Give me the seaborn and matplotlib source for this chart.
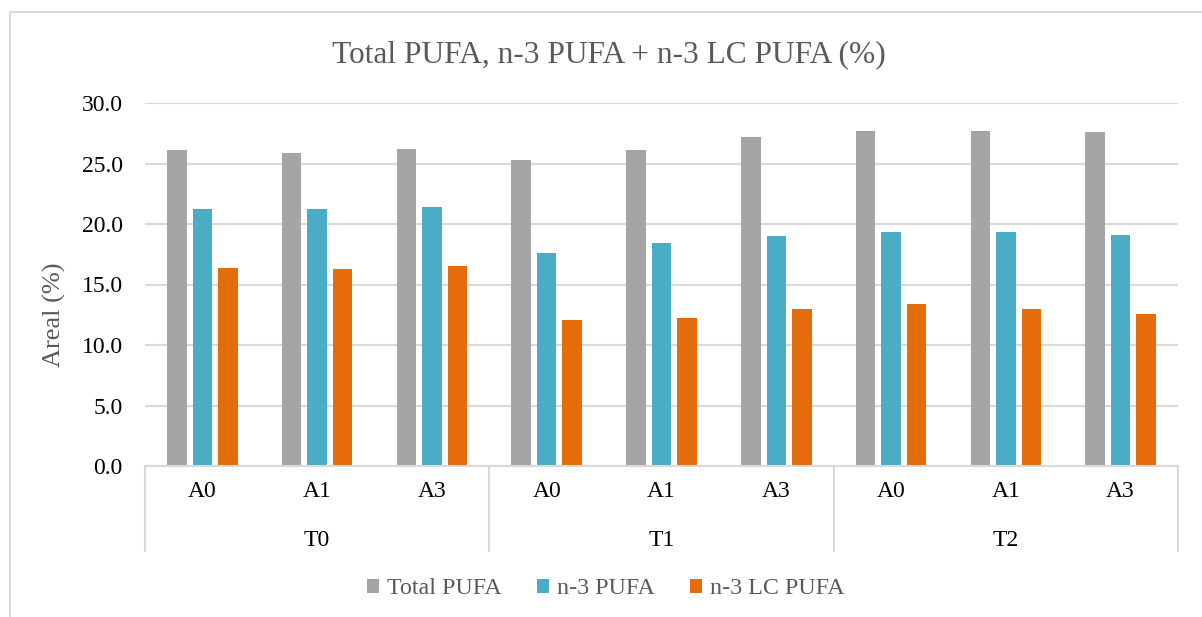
import pandas as pd
import matplotlib.pyplot as plt
import matplotlib.transforms as mtransforms
from matplotlib.patches import Rectangle
import seaborn as sns

# Data
groups = ["T0", "T1", "T2"]
treatments = ["A0", "A1", "A3"]
series = ["Total PUFA", "n-3 PUFA", "n-3 LC PUFA"]
total_pufa = [26.1, 25.9, 26.2, 25.3, 26.1, 27.2, 27.7, 27.7, 27.6]
n3_pufa = [21.2, 21.2, 21.4, 17.6, 18.4, 19.0, 19.3, 19.3, 19.1]
n3_lc_pufa = [16.4, 16.3, 16.5, 12.1, 12.2, 13.0, 13.4, 13.0, 12.6]
colors = ["#A5A5A5", "#4BACC6", "#E46C0A"]

cats = [f"{g}-{t}" for g in groups for t in treatments]
df = pd.DataFrame({
    "cat": cats * 3,
    "series": [s for s in series for _ in cats],
    "value": total_pufa + n3_pufa + n3_lc_pufa,
})

sns.set_style("white")
plt.rcParams["font.family"] = ["Liberation Serif", "DejaVu Serif"]

grid_col = "#D9D9D9"
text_col = "#595959"

fig = plt.figure(figsize=(12.02, 6.17), dpi=100)
ax = fig.add_axes([145 / 1202, 1 - 466 / 617, 1033 / 1202, 363 / 617])

sns.barplot(
    data=df, x="cat", y="value", hue="series",
    order=cats, hue_order=series, palette=colors,
    saturation=1, width=0.666, gap=0.235, linewidth=0,
    errorbar=None, ax=ax,
)

ax.set_ylim(0, 30)
ax.set_xlim(-0.5, len(cats) - 0.5)
ax.set_yticks(range(0, 31, 5))
ax.set_yticklabels([f"{v:.1f}" for v in range(0, 31, 5)])
ax.set_xticks(range(len(cats)))
ax.set_xticklabels(treatments * len(groups))
ax.tick_params(axis="both", length=0, labelsize=17, colors="black")
ax.tick_params(axis="y", pad=16)
ax.tick_params(axis="x", pad=11)

ax.yaxis.grid(True, color=grid_col, linewidth=1.5)
ax.set_axisbelow(True)
for side in ["top", "right", "left"]:
    ax.spines[side].set_visible(False)
ax.spines["bottom"].set_color(grid_col)
ax.spines["bottom"].set_linewidth(1.5)

ax.set_xlabel("")
ax.set_ylabel("Areal (%)", fontsize=19, color=text_col)
ax.yaxis.set_label_coords(-0.076, 0.416)

# second level of the category axis
trans = mtransforms.blended_transform_factory(ax.transData, ax.transAxes)
for i, g in enumerate(groups):
    ax.text(i * 3 + 1, -0.2204, g, transform=trans, ha="center",
            va="baseline", fontsize=17, color="black")
for xs in [-0.5, 2.5, 5.5, 8.5]:
    ax.plot([xs, xs], [0, -0.234], transform=trans, color=grid_col,
            linewidth=1.5, clip_on=False)

# legend below
handles, labels = ax.get_legend_handles_labels()
ax.legend_.remove()
fig.legend(handles, labels, loc="center", bbox_to_anchor=(606 / 1202, 1 - 589 / 617),
           ncol=3, frameon=False, fontsize=17.3, labelcolor=text_col,
           handlelength=0.5, handleheight=0.5, handletextpad=0.35,
           columnspacing=1.45)

fig.text(609 / 1202, 1 - 55 / 617, "Total PUFA, n-3 PUFA + n-3 LC PUFA (%)",
         ha="center", va="center", fontsize=22.6, color=text_col)

# chart area border (left and top edges visible)
fig.patches.append(Rectangle((10 / 1202, -0.1), 1.2, 1 - 12 / 617 + 0.1,
                             transform=fig.transFigure, fill=False,
                             edgecolor=grid_col, linewidth=1.5))

fig.savefig("out.png", dpi=100)
